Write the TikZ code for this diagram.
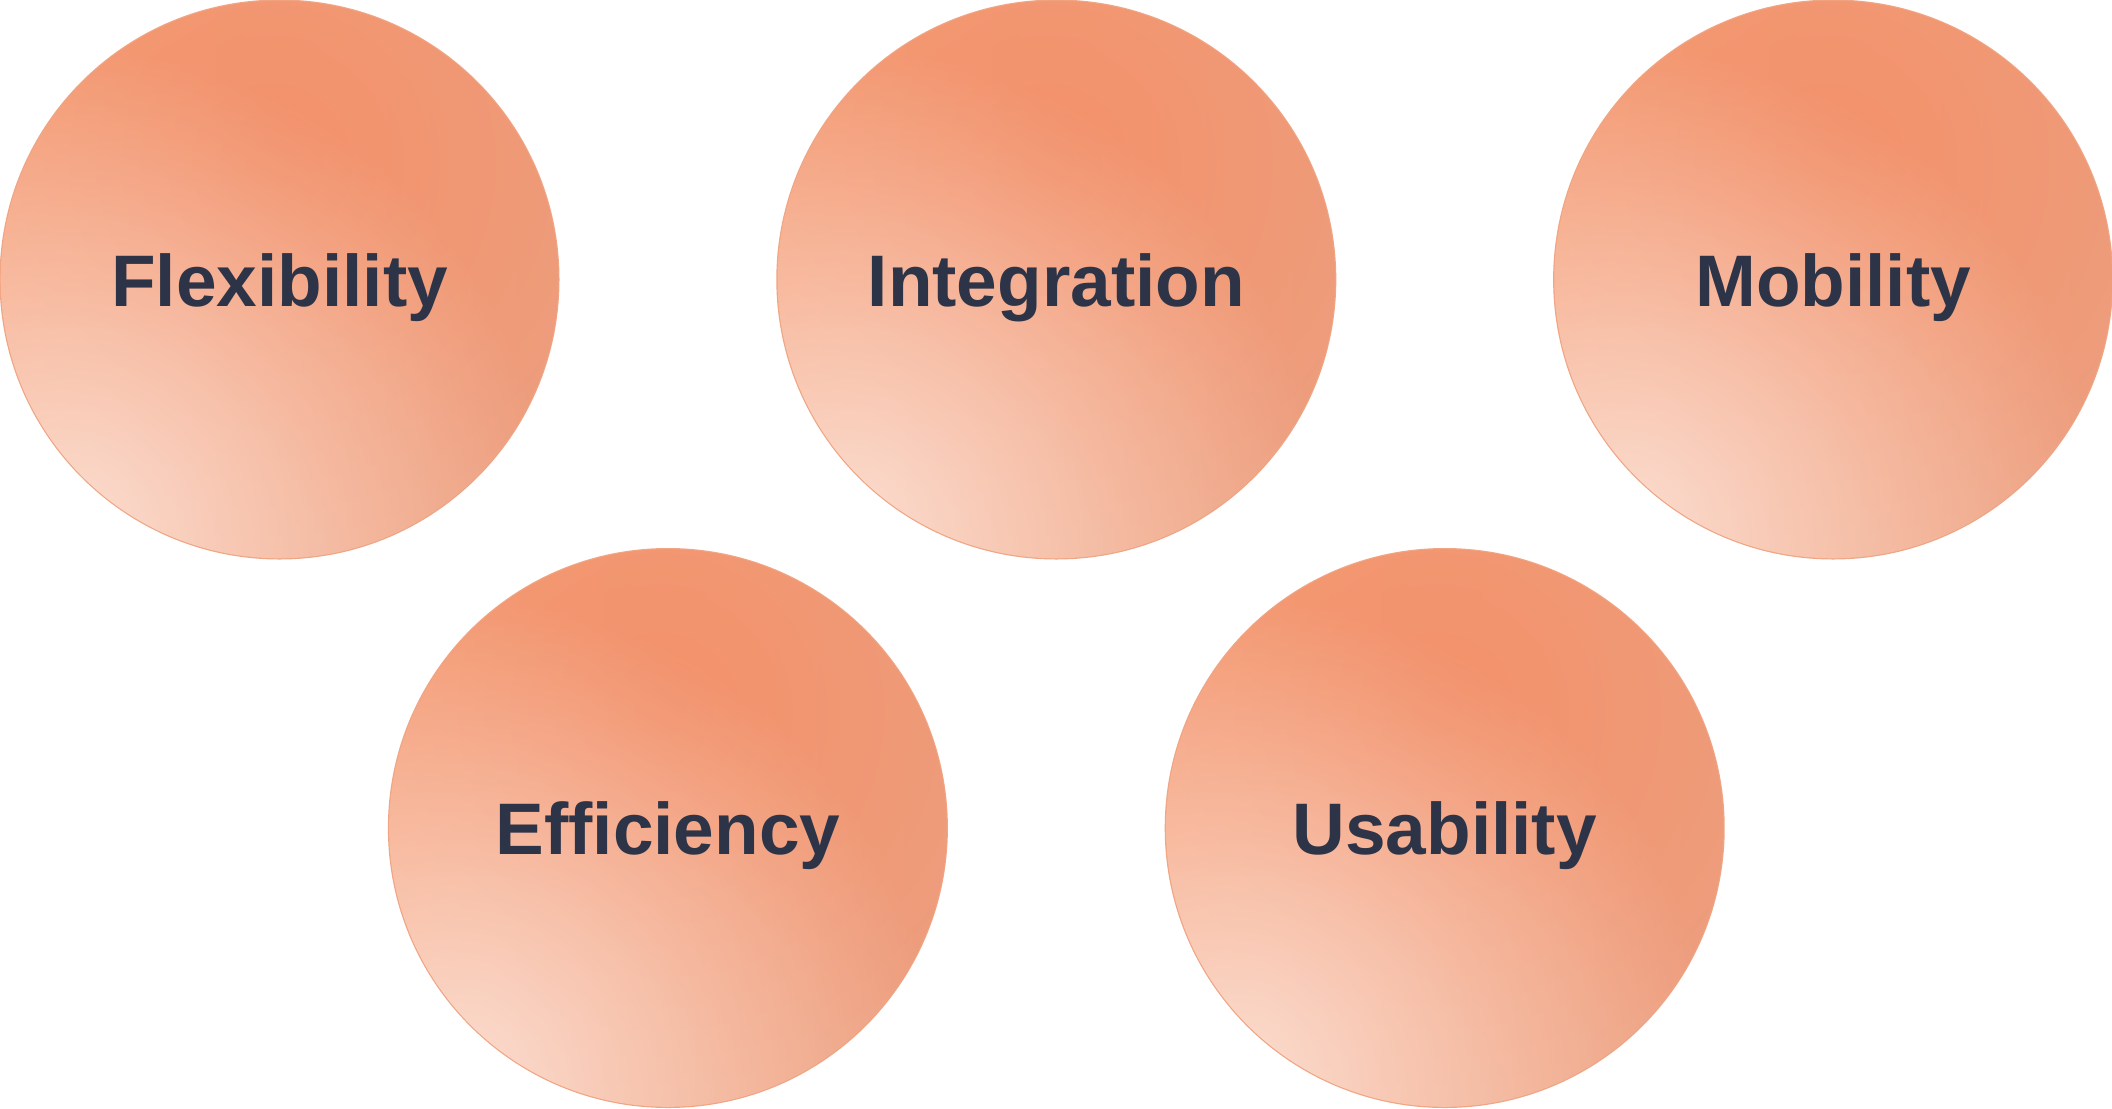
\documentclass[tikz,border=0pt]{standalone}
\usepackage{fontspec}
\setmainfont{Liberation Sans}
\usetikzlibrary{positioning,calc,fadings,backgrounds}
\usepackage{xcolor}
\definecolor{petalcore}{HTML}{F3916A}
\definecolor{petalleft}{HTML}{F8A67F}
\definecolor{petalright}{HTML}{EAA487}
\definecolor{inkslate}{HTML}{2E3447}
\tikzfading[name=glowfade, inner color=transparent!0, outer color=transparent!100]
\tikzfading[name=washfade, inner color=transparent!35, outer color=transparent!100]

\begin{document}
\begin{tikzpicture}[
    x=0.5pt, y=-0.5pt,
    node distance=108pt,
    petal/.style={circle, minimum size=280pt, inner sep=0pt, text=inkslate,
      text height=26.5pt, text depth=0pt,
      font=\fontsize{36.5}{40}\selectfont\bfseries}
  ]
    \useasboundingbox (0,0) rectangle (2112,1108);

    \node[petal] (flex) at (279.5,279.5) {Flexibility};
    \node[petal, right=of flex]  (integ) {Integration};
    \node[petal, right=of integ] (mobil) {Mobility};
    \node[petal] (effic) at ($(flex)!.5!(integ)+(0,548.5)$) {Efficiency};
    \node[petal] (usab)  at ($(integ)!.5!(mobil)+(0,548.5)$) {Usability};

    % soft fills behind the labels
    \begin{scope}[on background layer]
      \foreach \p in {flex,integ,mobil,effic,usab} {
        \fill[petalright!60!petalleft] (\p.center) circle (140pt);
        \begin{scope}
          \clip (\p.center) circle (139.4pt);
          \shade[left color=petalleft, right color=petalright]
            ([shift={(-150pt,-150pt)}]\p.center) rectangle ([shift={(150pt,150pt)}]\p.center);
          \fill[petalcore, path fading=glowfade] ([shift={(-4pt,58pt)}]\p.center) circle (265pt);
          \fill[white, path fading=washfade] ([shift={(-105pt,-125pt)}]\p.center) circle (240pt);
        \end{scope}
      }
    \end{scope}
  \end{tikzpicture}
\end{document}
